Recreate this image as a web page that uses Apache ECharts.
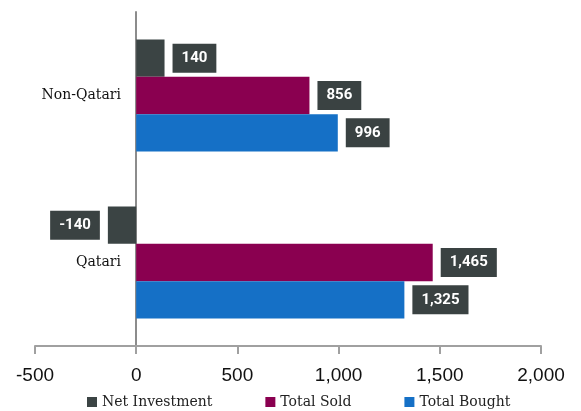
<!DOCTYPE html>
<html><head><meta charset="utf-8">
<script src="https://cdn.jsdelivr.net/npm/echarts@6/dist/echarts.min.js"></script>
<style>html,body{margin:0;padding:0;background:#fff}#c{width:581px;height:411px}</style>
</head><body><div id="c"></div>
<script>
const categories = ['Qatari', 'Non-Qatari'];
const seriesNames = ['Net Investment', 'Total Sold', 'Total Bought'];
const netInvestment = [-140, 140];
const totalSold = [1465, 856];
const totalBought = [1325, 996];
const xTicks = [-500, 0, 500, 1000, 1500, 2000];
const colors = ['#3b4444', '#8a0050', '#1570c6'];

const labelStyle = {
  show: true, position: 'right', distance: 8,
  backgroundColor: '#3a4242', color: '#fff',
  fontFamily: 'Roboto', fontWeight: 'bold', fontSize: 15, lineHeight: 15,
  padding: [7, 9, 7, 9],
  formatter: p => p.value.toLocaleString('en-US')
};
function mk(vals) {
  return vals.map(v => v < 0 ? { value: v, label: { position: 'left' } } : v);
}
const chart = echarts.init(document.getElementById('c'));
chart.setOption({
  animation: false,
  color: colors,
  grid: { left: 35, right: 40, top: 12, bottom: 65, containLabel: false, outerBoundsMode: 'none' },
  legend: {
    top: 390, left: 82, itemWidth: 10, itemHeight: 10, itemGap: 53,
    icon: 'rect',
    textStyle: { fontFamily: 'DejaVu Serif', fontSize: 14, color: '#222' },
    data: seriesNames
  },
  xAxis: {
    type: 'value', min: xTicks[0], max: xTicks[xTicks.length - 1], interval: 500,
    splitLine: { show: false },
    axisLine: { show: true, lineStyle: { color: '#a0a0a0', width: 2 } },
    axisTick: { show: true, length: 8, lineStyle: { color: '#a0a0a0', width: 2 } },
    axisLabel: { margin: 20, fontFamily: 'Liberation Sans', fontSize: 19, color: '#111',
      formatter: v => v.toLocaleString('en-US') }
  },
  yAxis: {
    type: 'category', data: categories,
    axisLine: { show: true, onZero: true, lineStyle: { color: '#8c8c8c', width: 2 } },
    axisTick: { show: false },
    axisLabel: { margin: -86, fontFamily: 'DejaVu Serif', fontSize: 14, color: '#111' }
  },
  series: [
    { name: seriesNames[0], type: 'bar', data: mk(netInvestment), barGap: '0%', barCategoryGap: '33%', label: labelStyle },
    { name: seriesNames[1], type: 'bar', data: mk(totalSold), label: labelStyle },
    { name: seriesNames[2], type: 'bar', data: mk(totalBought), label: labelStyle }
  ]
});
</script></body></html>
